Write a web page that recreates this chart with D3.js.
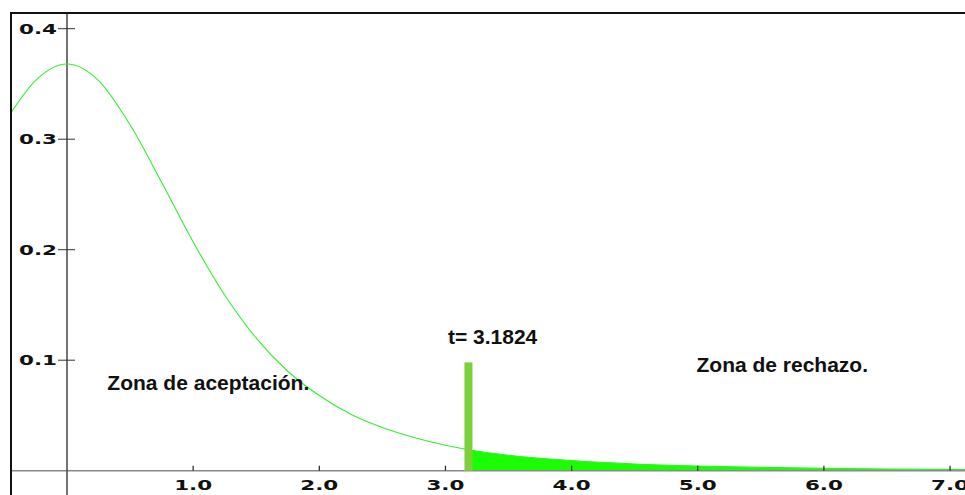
<!DOCTYPE html>
<html>
<head>
<meta charset="utf-8">
<script src="https://cdn.jsdelivr.net/npm/d3@7"></script>
<style>
  body { margin: 0; background: #fff; }
  svg { display: block; }
</style>
</head>
<body>
<div id="chart"></div>
<script>
// density values
var curveX = [-0.45, -0.25, 0, 0.25, 0.5, 0.75, 1.0, 1.25, 1.5, 1.75, 2.0, 2.25, 2.5, 2.75, 3.0, 3.1824, 3.5, 4.0, 4.5, 5.0, 5.5, 6.0, 6.5, 7.0, 7.15];
var curveY = [0.323, 0.353, 0.368, 0.353, 0.313, 0.261, 0.207, 0.159, 0.120, 0.090, 0.068, 0.051, 0.039, 0.030, 0.023, 0.019, 0.014, 0.0092, 0.0061, 0.0042, 0.0030, 0.0022, 0.0016, 0.0012, 0.0011];
var tCrit = 3.1824;
var barHeight = 0.098;
var xTicks = [1.0, 2.0, 3.0, 4.0, 5.0, 6.0, 7.0];
var yTicks = [0.1, 0.2, 0.3, 0.4];
var labels = [
  {text: "Zona de aceptación.", x: 0.32, y: 0.073},
  {text: "t= 3.1824", x: 3.02, y: 0.115},
  {text: "Zona de rechazo.", x: 4.99, y: 0.089}
];

var W = 965, H = 495;
var svg = d3.select("#chart").append("svg")
  .attr("width", W).attr("height", H);

var x = d3.scaleLinear().domain([0, 1]).range([67, 67 + 126.15]);
var y = d3.scaleLinear().domain([0, 0.4]).range([470.7, 28.7]);

var pts = curveX.map(function(d, i) { return {x: d, y: curveY[i]}; });
var tail = pts.filter(function(d) { return d.x >= tCrit; });

// rejection area
svg.append("path")
  .attr("d", d3.area()
    .x(function(d) { return x(d.x); })
    .y0(y(0))
    .y1(function(d) { return y(d.y); })
    .curve(d3.curveMonotoneX)(tail))
  .attr("fill", "#1aff00");

// axes lines
svg.append("line")
  .attr("x1", 11).attr("x2", W)
  .attr("y1", y(0)).attr("y2", y(0))
  .attr("stroke", "#8a8a8a").attr("stroke-width", 1.5);
svg.append("line")
  .attr("x1", x(0)).attr("x2", x(0))
  .attr("y1", 13).attr("y2", H)
  .attr("stroke", "#444").attr("stroke-width", 1.5);

// curve
svg.append("path")
  .attr("d", d3.line()
    .x(function(d) { return x(d.x); })
    .y(function(d) { return y(d.y); })
    .curve(d3.curveMonotoneX)(pts))
  .attr("fill", "none")
  .attr("stroke", "#33ee33")
  .attr("stroke-width", 1.1);

// critical value bar
svg.append("rect")
  .attr("x", x(tCrit) - 4)
  .attr("width", 8)
  .attr("y", y(barHeight))
  .attr("height", y(0) - y(barHeight))
  .attr("fill", "#7dd03c");

// frame
svg.append("line")
  .attr("x1", 11).attr("x2", 11).attr("y1", 12).attr("y2", H)
  .attr("stroke", "#111").attr("stroke-width", 2);
svg.append("line")
  .attr("x1", 10).attr("x2", W).attr("y1", 13).attr("y2", 13)
  .attr("stroke", "#111").attr("stroke-width", 2);

// ticks
svg.selectAll(".xt").data(xTicks).enter().append("line")
  .attr("x1", function(d) { return x(d); })
  .attr("x2", function(d) { return x(d); })
  .attr("y1", y(0) - 5).attr("y2", y(0))
  .attr("stroke", "#222").attr("stroke-width", 1.2);
svg.selectAll(".yt").data(yTicks).enter().append("line")
  .attr("x1", x(0) - 9).attr("x2", x(0) + 8)
  .attr("y1", function(d) { return y(d); })
  .attr("y2", function(d) { return y(d); })
  .attr("stroke", "#333").attr("stroke-width", 1);

var tickFont = "'DejaVu Sans', Verdana, sans-serif";
svg.selectAll(".xl").data(xTicks).enter().append("text")
  .attr("x", function(d) { return x(d) - 19; })
  .attr("y", 490)
  .attr("textLength", 38).attr("lengthAdjust", "spacingAndGlyphs")
  .attr("font-family", tickFont).attr("font-weight", "bold").attr("font-size", 14.5)
  .attr("fill", "#111")
  .text(function(d) { return d.toFixed(1); });
svg.selectAll(".yl").data(yTicks).enter().append("text")
  .attr("x", 19)
  .attr("y", function(d) { return y(d) + 5; })
  .attr("textLength", 38).attr("lengthAdjust", "spacingAndGlyphs")
  .attr("font-family", tickFont).attr("font-weight", "bold").attr("font-size", 14.5)
  .attr("fill", "#111")
  .text(function(d) { return d.toFixed(1); });

svg.selectAll(".lab").data(labels).enter().append("text")
  .attr("x", function(d) { return x(d.x); })
  .attr("y", function(d) { return y(d.y); })
  .attr("font-family", "'Liberation Sans', Arial, sans-serif")
  .attr("font-weight", "bold").attr("font-size", 21)
  .attr("fill", "#111")
  .text(function(d) { return d.text; });
</script>
</body>
</html>
